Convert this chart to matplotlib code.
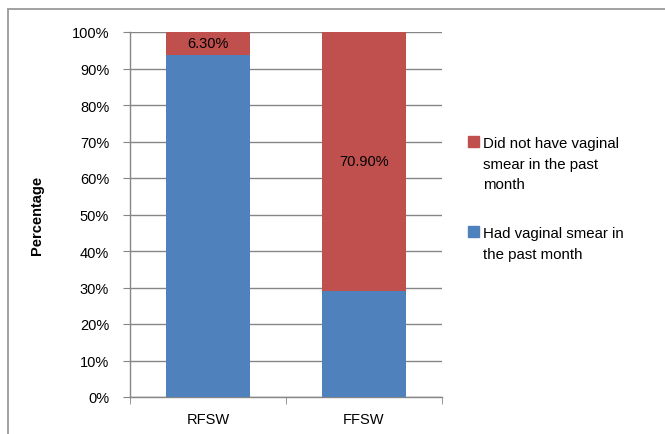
import matplotlib
matplotlib.use('Agg')
import matplotlib.pyplot as plt
from matplotlib.patches import Rectangle
from matplotlib.ticker import FixedLocator, PercentFormatter

groups = ['RFSW', 'FFSW']
had_smear = [93.7, 29.1]
no_smear = [6.3, 70.9]
no_smear_labels = ['6.30%', '70.90%']
legend_labels = ['Did not have vaginal\nsmear in the past\nmonth',
                 'Had vaginal smear in\nthe past month']

blue = '#4F81BD'
red = '#C0504D'
grid_col = '#868686'
W, H = 665, 435

plt.rcParams['font.family'] = ['Liberation Sans', 'DejaVu Sans']
fig = plt.figure(figsize=(W/100, H/100), dpi=100)
ax = fig.add_axes([130/W, 1-398/H, 312/W, 365/H])

# outer chart frame (only top and left edges fall inside the image)
fig.patches.append(Rectangle((8/W, -0.1), 1.2, 1-10/H+0.1, transform=fig.transFigure,
                             fill=False, edgecolor='#9a9a9a', lw=1.3))

x = range(len(groups))
ax.bar(x, had_smear, width=0.535, color=blue, zorder=3)
ax.bar(x, no_smear, width=0.535, bottom=had_smear, color=red, zorder=3)
for i in x:
    ax.text(i, had_smear[i] + no_smear[i]/2, no_smear_labels[i], ha='center', va='center',
            fontsize=10.5, zorder=4)

ax.set_xlim(-0.5, 1.5)
ax.set_ylim(0, 100)
ax.set_yticks(range(0, 101, 10))
ax.yaxis.set_major_formatter(PercentFormatter(decimals=0))
ax.set_xticks(list(x))
ax.set_xticklabels(groups)
ax.xaxis.set_minor_locator(FixedLocator([-0.5, 0.5, 1.5]))
ax.tick_params(axis='x', which='major', length=0, pad=11, labelsize=10.5)
ax.tick_params(axis='x', which='minor', length=5, color=grid_col, direction='out')
ax.tick_params(axis='y', length=5, color=grid_col, labelsize=10.5, pad=10)
ax.grid(axis='y', color=grid_col, lw=1, zorder=0)
for s in ['top', 'right']:
    ax.spines[s].set_visible(False)
for s in ['left', 'bottom']:
    ax.spines[s].set_color(grid_col)
    ax.spines[s].set_linewidth(1)
ax.set_ylabel('Percentage', fontweight='bold', fontsize=10.5, labelpad=20)

# legend, markers level with the first text line like the original
for col, lab, top in [(red, legend_labels[0], 137), (blue, legend_labels[1], 227)]:
    fig.patches.append(Rectangle((468/W, 1-(top+11)/H), 11/W, 11/H,
                                 transform=fig.transFigure, color=col))
    fig.text(483/W, 1-top/H, lab, ha='left', va='top', fontsize=10.8, linespacing=1.6)

fig.savefig('out.png', dpi=100)
